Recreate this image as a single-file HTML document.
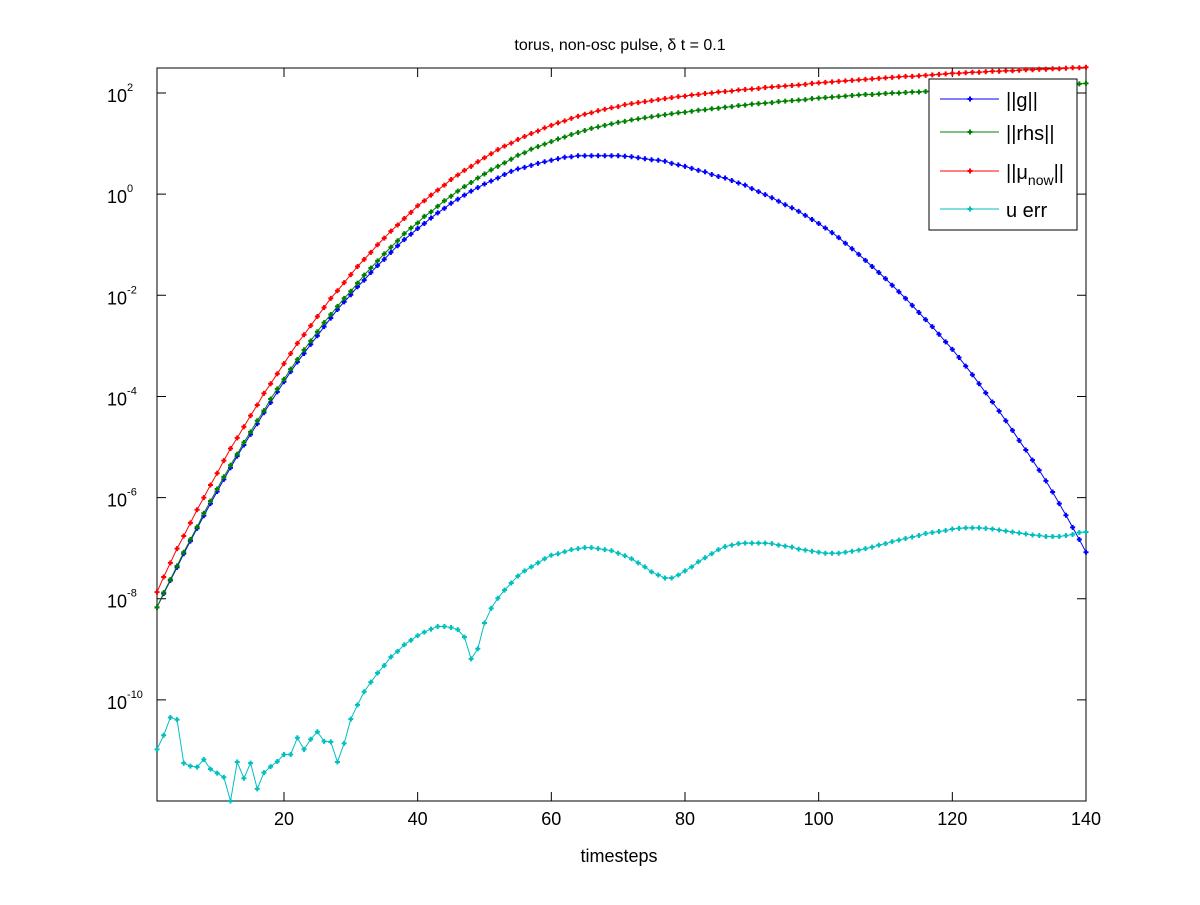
<!DOCTYPE html>
<html><head><meta charset="utf-8"><style>
body{margin:0;background:#fff;}
svg text{font-family:"Liberation Sans",sans-serif;}
</style></head><body>
<svg id="chart" width="1200" height="900" xmlns="http://www.w3.org/2000/svg">
<rect width="1200" height="900" fill="#fff"/>
<text x="620" y="50" font-size="16" text-anchor="middle">torus, non-osc pulse, δ t = 0.1</text>
<g id="plot"></g>
<text x="619" y="862" font-size="18" text-anchor="middle">timesteps</text>
</svg>
<script>
const xTicks=[20,40,60,80,100,120,140];
const yTickExps=[2,0,-2,-4,-6,-8,-10];
const gLog=[-8.17,-7.90,-7.64,-7.38,-7.11,-6.86,-6.61,-6.36,-6.12,-5.88,-5.64,-5.41,-5.18,-4.96,-4.75,-4.54,-4.32,-4.12,-3.91,-3.71,-3.51,-3.32,-3.15,-2.97,-2.80,-2.62,-2.45,-2.28,-2.13,-1.99,-1.83,-1.70,-1.55,-1.41,-1.29,-1.15,-1.02,-0.90,-0.79,-0.68,-0.58,-0.47,-0.37,-0.28,-0.18,-0.10,-0.02,0.06,0.13,0.20,0.26,0.32,0.39,0.45,0.50,0.53,0.57,0.61,0.64,0.67,0.70,0.73,0.74,0.76,0.76,0.76,0.76,0.76,0.76,0.76,0.75,0.74,0.72,0.70,0.68,0.67,0.65,0.61,0.58,0.55,0.51,0.47,0.44,0.39,0.35,0.32,0.27,0.22,0.18,0.11,0.05,-0.01,-0.07,-0.14,-0.21,-0.27,-0.34,-0.42,-0.50,-0.58,-0.67,-0.76,-0.86,-0.97,-1.08,-1.19,-1.31,-1.43,-1.55,-1.67,-1.80,-1.93,-2.06,-2.20,-2.34,-2.48,-2.62,-2.77,-2.92,-3.07,-3.23,-3.40,-3.57,-3.75,-3.93,-4.11,-4.29,-4.48,-4.67,-4.87,-5.06,-5.26,-5.46,-5.67,-5.89,-6.12,-6.35,-6.59,-6.83,-7.08];
const rhsLog=[-8.17,-7.88,-7.62,-7.35,-7.08,-6.83,-6.58,-6.31,-6.07,-5.83,-5.59,-5.36,-5.14,-4.91,-4.70,-4.48,-4.28,-4.05,-3.85,-3.66,-3.46,-3.27,-3.08,-2.90,-2.72,-2.54,-2.38,-2.22,-2.06,-1.92,-1.76,-1.60,-1.46,-1.32,-1.18,-1.05,-0.92,-0.78,-0.67,-0.57,-0.44,-0.35,-0.24,-0.13,-0.04,0.06,0.15,0.23,0.32,0.40,0.48,0.55,0.62,0.69,0.77,0.82,0.89,0.94,0.99,1.04,1.09,1.13,1.18,1.22,1.26,1.30,1.33,1.36,1.39,1.42,1.44,1.47,1.49,1.51,1.53,1.55,1.57,1.59,1.61,1.62,1.64,1.66,1.67,1.69,1.70,1.72,1.73,1.75,1.76,1.78,1.79,1.80,1.81,1.83,1.84,1.85,1.86,1.87,1.89,1.90,1.91,1.92,1.93,1.94,1.95,1.96,1.97,1.97,1.98,1.99,2.00,2.00,2.01,2.02,2.02,2.03,2.03,2.04,2.04,2.05,2.06,2.06,2.07,2.07,2.08,2.08,2.09,2.09,2.10,2.11,2.11,2.12,2.13,2.14,2.15,2.16,2.17,2.17,2.18,2.19];
const muLog=[-7.87,-7.57,-7.29,-7.01,-6.76,-6.50,-6.24,-6.00,-5.75,-5.52,-5.27,-5.03,-4.82,-4.60,-4.38,-4.17,-3.94,-3.75,-3.55,-3.35,-3.15,-2.95,-2.78,-2.60,-2.42,-2.24,-2.06,-1.91,-1.75,-1.59,-1.43,-1.29,-1.15,-1.00,-0.87,-0.73,-0.61,-0.48,-0.36,-0.23,-0.13,-0.02,0.08,0.18,0.29,0.38,0.47,0.55,0.64,0.72,0.80,0.88,0.95,1.01,1.08,1.14,1.20,1.25,1.31,1.36,1.41,1.45,1.50,1.54,1.58,1.61,1.65,1.68,1.71,1.73,1.77,1.79,1.81,1.83,1.85,1.87,1.89,1.91,1.93,1.94,1.96,1.97,1.99,2.00,2.02,2.03,2.04,2.06,2.07,2.08,2.09,2.11,2.12,2.13,2.14,2.15,2.16,2.17,2.19,2.20,2.21,2.22,2.23,2.24,2.25,2.26,2.27,2.28,2.29,2.30,2.31,2.32,2.33,2.33,2.34,2.35,2.36,2.37,2.38,2.39,2.39,2.40,2.41,2.41,2.42,2.43,2.43,2.44,2.44,2.45,2.46,2.46,2.47,2.47,2.48,2.48,2.49,2.50,2.50,2.51];
const uerrLog=[-10.98,-10.70,-10.35,-10.39,-11.25,-11.31,-11.33,-11.18,-11.37,-11.45,-11.53,-12.02,-11.23,-11.55,-11.25,-11.76,-11.44,-11.32,-11.22,-11.08,-11.08,-10.75,-10.98,-10.78,-10.63,-10.82,-10.83,-11.23,-10.86,-10.38,-10.10,-9.84,-9.65,-9.47,-9.32,-9.15,-9.04,-8.91,-8.82,-8.73,-8.66,-8.60,-8.55,-8.55,-8.57,-8.61,-8.76,-9.19,-8.99,-8.48,-8.19,-7.99,-7.83,-7.69,-7.55,-7.45,-7.37,-7.29,-7.21,-7.14,-7.11,-7.07,-7.03,-7.01,-6.99,-6.99,-7.01,-7.03,-7.05,-7.10,-7.15,-7.21,-7.29,-7.37,-7.47,-7.53,-7.59,-7.59,-7.53,-7.45,-7.37,-7.27,-7.19,-7.11,-7.03,-6.97,-6.94,-6.91,-6.90,-6.90,-6.90,-6.90,-6.91,-6.94,-6.96,-6.98,-7.02,-7.04,-7.06,-7.08,-7.10,-7.10,-7.10,-7.08,-7.06,-7.04,-7.01,-6.98,-6.94,-6.91,-6.87,-6.84,-6.81,-6.78,-6.75,-6.71,-6.69,-6.67,-6.65,-6.62,-6.61,-6.60,-6.60,-6.60,-6.61,-6.62,-6.64,-6.66,-6.68,-6.70,-6.72,-6.74,-6.75,-6.77,-6.77,-6.77,-6.75,-6.73,-6.69,-6.68];

const NS="http://www.w3.org/2000/svg";
const L=157,R=1086,T=68,B=801;
const xMin=1,xMax=140,yMin=-12,yMax=2.495;
function xs(t){return L+(t-xMin)/(xMax-xMin)*(R-L);}
function ys(lg){return B-(lg-yMin)/(yMax-yMin)*(B-T);}
const plot=document.getElementById('plot');
function mk(tag,attrs,parent){const e=document.createElementNS(NS,tag);for(const k in attrs)e.setAttribute(k,attrs[k]);(parent||plot).appendChild(e);return e;}

const frame=mk('rect',{x:L,y:T,width:R-L,height:B-T,fill:'none',stroke:'#000','stroke-width':1});



xTicks.forEach(v=>{
  const x=xs(v);
  const tk=mk('path',{d:`M${x} ${B}V${B-9}M${x} ${T}V${T+9}`,stroke:'#000','stroke-width':1});
  
  
  const lb=mk('text',{x:x,y:B+24,'font-size':18,'text-anchor':'middle'});
  lb.textContent=v;
  
  
});
yTickExps.forEach(v=>{
  const y=ys(v);
  const tk=mk('path',{d:`M${L} ${y}H${L+9}M${R} ${y}H${R-9}`,stroke:'#000','stroke-width':1});
  
  
  const lb=mk('text',{x:107,y:y+9,'font-size':18});
  
  
  const base=document.createElementNS(NS,'tspan');base.textContent='10';lb.appendChild(base);
  const sup=document.createElementNS(NS,'tspan');sup.setAttribute('font-size','11');sup.setAttribute('dy','-11');sup.textContent=String(v);lb.appendChild(sup);
});

function series(data,color,name){
  const g=mk('g',{});
  
  
  const pts=data.map((v,i)=>[xs(i+1),ys(Math.max(v,yMin))]);
  const ln=mk('polyline',{points:pts.map(p=>p.join(',')).join(' '),fill:'none',stroke:color,'stroke-width':1},g);
  
  
  let d='';pts.forEach(p=>{d+=`M${p[0]-2.5} ${p[1]}h5M${p[0]} ${p[1]-2.5}v5`;});
  const m=mk('path',{d:d,stroke:color,'stroke-width':2},g);
  
  
}
series(gLog,'#0000ff','series-g');
series(rhsLog,'#008000','series-rhs');
series(muLog,'#ff0000','series-mu-now');
series(uerrLog,'#00bfbf','series-u-err');

const lg=mk('g',{});


mk('rect',{x:929,y:79,width:148,height:151,fill:'#fff',stroke:'#000','stroke-width':1},lg);
const entries=[['#0000ff',99,'||g||'],['#008000',132,'||rhs||'],['#ff0000',171,'MU'],['#00bfbf',209,'u err']];
entries.forEach(e=>{
  const ge=mk('g',{},lg);
  
  
  mk('line',{x1:940,y1:e[1],x2:999,y2:e[1],stroke:e[0],'stroke-width':1},ge);
  mk('path',{d:`M${967.5} ${e[1]}h5M970 ${e[1]-2.5}v5`,stroke:e[0],'stroke-width':2},ge);
  const t=mk('text',{x:1006,y:e[1]+8,'font-size':20},ge);
  if(e[2]==='MU'){
    const a=document.createElementNS(NS,'tspan');a.textContent='||μ';t.appendChild(a);
    const b=document.createElementNS(NS,'tspan');b.setAttribute('font-size','14');b.setAttribute('dy','6');b.textContent='now';t.appendChild(b);
    const c=document.createElementNS(NS,'tspan');c.setAttribute('dy','-6');c.textContent='||';t.appendChild(c);
  } else t.textContent=e[2];
});
</script>
</body></html>
